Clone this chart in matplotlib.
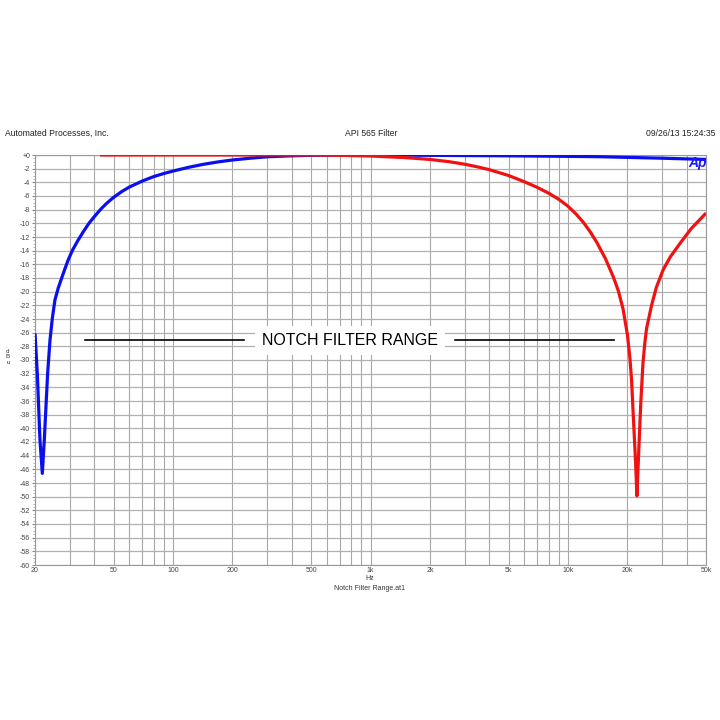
import matplotlib
matplotlib.use("Agg")
import matplotlib.pyplot as plt
from matplotlib.ticker import FixedLocator, NullFormatter, MultipleLocator

plt.rcParams['font.family'] = ['Liberation Sans', 'DejaVu Sans']

# ---- data ----
blue_freq = [20, 20.54, 21.19, 21.78, 22.29, 23.18, 23.82, 24.5, 25.24, 26.2, 27.3, 28.4,
             29.5, 31, 33, 35, 37.5, 40, 43, 46, 50, 55, 60, 70, 80, 90, 100, 120, 142, 170,
             200, 250, 304, 400, 500, 700, 1000, 2000, 5000, 10000, 14500, 20000, 30000, 50000]
blue_db = [-26.1, -31.9, -41.7, -46.6, -41.7, -31.9, -27.1, -23.8, -21.2, -19.5, -18.0, -16.6,
           -15.3, -13.9, -12.5, -11.3, -10.0, -9.0, -7.95, -7.1, -6.2, -5.35, -4.7, -3.8, -3.15,
           -2.7, -2.35, -1.8, -1.37, -1.0, -0.73, -0.45, -0.25, -0.12, -0.05, 0.0, 0.0, -0.05,
           -0.12, -0.2, -0.25, -0.35, -0.47, -0.65]

red_freq = [42.7, 100, 200, 500, 700, 1000, 1500, 2000, 2500, 3000, 3500, 4000, 5000, 6000,
            7000, 8000, 9000, 10000, 11000, 12000, 13000, 14000, 15500, 17000, 18000, 19000,
            20000, 20600, 21000, 21320, 21700, 22000, 22340, 22700, 23000, 23400, 23970,
            24500, 25000, 26500, 28000, 30330, 33000, 36900, 42000, 50000]
red_db = [0.0, 0.0, 0.0, 0.0, -0.05, -0.15, -0.38, -0.65, -0.98, -1.35, -1.75, -2.15, -3.0, -3.9,
          -4.75, -5.6, -6.5, -7.5, -8.65, -9.9, -11.3, -12.8, -15.2, -17.9, -19.9, -22.5,
          -26.3, -29.8, -33.0, -37.0, -41.5, -45.0, -49.9, -45.0, -41.0, -36.0, -30.5,
          -27.5, -25.4, -22.0, -19.4, -16.8, -14.9, -12.95, -10.8, -8.5]

x_ticks = [20, 50, 100, 200, 500, 1000, 2000, 5000, 10000, 20000, 50000]
x_tick_labels = ['20', '50', '100', '200', '500', '1k', '2k', '5k', '10k', '20k', '50k']
y_ticks = list(range(0, -62, -2))
y_tick_labels = ['+0'] + [str(v) for v in y_ticks[1:]]

fig = plt.figure(figsize=(7.2, 7.2), dpi=100)
ax = fig.add_axes([35/720, 1-565/720, 671/720, 410/720])

ax.set_xscale('log')
ax.set_xlim(20, 50000)
ax.set_ylim(-60, 0)

# grid
minor_x = []
for dec in [10, 100, 1000, 10000]:
    for m in range(1, 10):
        v = m * dec
        if 20 <= v <= 50000:
            minor_x.append(v)
for v in minor_x:
    ax.axvline(v, color='#a8a8a8', lw=0.8, zorder=1)
for v in y_ticks:
    ax.axhline(v, color='#b0b0b0', lw=0.9, zorder=1)

ax.plot(blue_freq, blue_db, color='#0a0ff0', lw=2.3, zorder=3,
        solid_joinstyle='round', solid_capstyle='butt')
ax.plot(red_freq, red_db, color='#f01212', lw=2.3, zorder=3,
        solid_joinstyle='round', solid_capstyle='butt')

ax.xaxis.set_major_locator(FixedLocator(x_ticks))
ax.set_xticklabels(x_tick_labels)
ax.xaxis.set_minor_formatter(NullFormatter())
ax.xaxis.set_minor_locator(FixedLocator([]))
ax.set_yticks(y_ticks)
ax.set_yticklabels(y_tick_labels)
ax.yaxis.set_minor_locator(MultipleLocator(0.5))
ax.tick_params(axis='both', which='major', labelsize=5, length=2, color='#888888', pad=1.5, labelcolor='#444444')
ax.tick_params(axis='y', which='minor', length=1.5, color='#aaaaaa')
ax.tick_params(axis='x', which='major', length=0)

for s in ax.spines.values():
    s.set_color('#999999')
    s.set_linewidth(0.8)

# notch range annotation
ax.plot([0.0745, 0.3115], [0.548, 0.548], color='black', lw=1.2, transform=ax.transAxes, zorder=4)
ax.plot([0.626, 0.863], [0.548, 0.548], color='black', lw=1.2, transform=ax.transAxes, zorder=4)
ax.text(0.469, 0.548, 'NOTCH FILTER RANGE', transform=ax.transAxes, ha='center', va='center',
        fontsize=11.5, color='black', zorder=5,
        bbox=dict(facecolor='white', edgecolor='none', pad=5))

ax.text(0.987, 0.997, 'Ap', transform=ax.transAxes, ha='center', va='top', fontsize=10,
        color='#1a1aff', fontweight='bold', fontstyle='italic', zorder=6)

# header & labels
fig.text(5/720, 1-133/720, 'Automated Processes, Inc.', ha='left', va='center', fontsize=6.2, color='#222222')
fig.text(371/720, 1-133/720, 'API 565 Filter', ha='center', va='center', fontsize=6.2, color='#222222')
fig.text(715/720, 1-133/720, '09/26/13 15:24:35', ha='right', va='center', fontsize=6.2, color='#222222')
fig.text(370/720, 1-578/720, 'Hz', ha='center', va='center', fontsize=5, color='#333333')
fig.text(370/720, 1-588/720, 'Notch Filter Range.at1', ha='center', va='center', fontsize=5, color='#333333')
fig.text(8/720, 1-357/720, 'd\nB\nu', ha='center', va='center', fontsize=4.5, color='#333333', linespacing=1.1)

fig.savefig('out.png', dpi=100, facecolor='white')
